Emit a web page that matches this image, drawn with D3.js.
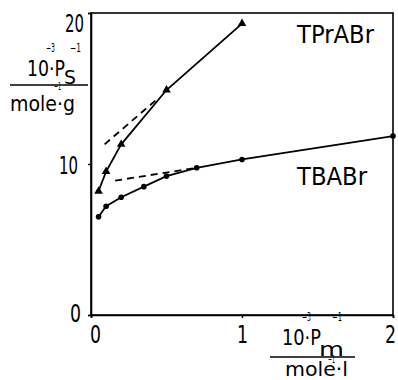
<!DOCTYPE html>
<html><head><meta charset="utf-8">
<script src="https://cdn.jsdelivr.net/npm/d3@7/dist/d3.min.js"></script>
<style>
body{margin:0;background:#fff;}
svg text{font-family:"DejaVu Sans Condensed","Liberation Sans Narrow",sans-serif;fill:#000;}
</style></head>
<body><svg id="c" width="398" height="380"></svg>
<script>
const tprX = [0.05, 0.1, 0.2, 0.5, 1.0];
const tprY = [8.2, 9.5, 11.3, 14.9, 19.3];
const tbaX = [0.05, 0.1, 0.2, 0.35, 0.5, 0.7, 1.0, 2.0];
const tbaY = [6.5, 7.2, 7.8, 8.5, 9.2, 9.75, 10.3, 11.85];
const tprDashX = [0.09, 0.45];
const tprDashY = [11.3, 14.4];
const tbaDashX = [0.16, 0.7];
const tbaDashY = [8.9, 9.75];
const xTicks = [0, 1, 2];
const yTicks = [0, 10, 20];
const seriesNames = ["TPrABr", "TBABr"];

const svg = d3.select("#c");
const x = d3.scaleLinear().domain([0, 2]).range([91, 393]);
const y = d3.scaleLinear().domain([0, 20]).range([315, 13]);

// frame
svg.append("rect").attr("x", x(0)).attr("y", y(20)).attr("width", x(2) - x(0)).attr("height", y(0) - y(20))
  .attr("fill", "none").attr("stroke", "#000").attr("stroke-width", 1.6);

// y axis
const ya = svg.append("g").attr("transform", `translate(${x(0)},0)`)
  .call(d3.axisLeft(y).tickValues(yTicks).tickSize(3).tickPadding(4).tickFormat(d3.format("d")));
ya.select(".domain").attr("stroke-width", 1.6);
ya.selectAll(".tick line").attr("stroke-width", 1.4);
const yOff = {0: -3, 10: 0, 20: 9};
const yDx = {0: -3, 10: -6, 20: 0};
ya.selectAll(".tick text").attr("font-size", 25).attr("dy", "0.36em")
  .attr("font-family", '"DejaVu Sans Condensed",sans-serif')
  .attr("y", d => yOff[d]).attr("dx", d => yDx[d])
  .attr("textLength", d => String(d).length > 1 ? 19 : 11).attr("lengthAdjust", "spacingAndGlyphs");

// x axis
const xa = svg.append("g").attr("transform", `translate(0,${y(0)})`)
  .call(d3.axisBottom(x).tickValues(xTicks).tickSize(3).tickPadding(7).tickFormat(d3.format("d")));
xa.select(".domain").attr("stroke-width", 1.6);
xa.selectAll(".tick line").attr("stroke-width", 1.4);
const xDx = {0: 4, 1: 0, 2: -3};
xa.selectAll(".tick text").attr("font-size", 25)
  .attr("font-family", '"DejaVu Sans Condensed",sans-serif')
  .attr("dx", d => xDx[d]).attr("textLength", 11).attr("lengthAdjust", "spacingAndGlyphs");

const line = d3.line().x(d => x(d[0])).y(d => y(d[1]));
const tpr = tprX.map((v, i) => [v, tprY[i]]);
const tba = tbaX.map((v, i) => [v, tbaY[i]]);

svg.append("path").attr("d", line(tpr)).attr("fill", "none").attr("stroke", "#000").attr("stroke-width", 1.8);
svg.append("path").attr("d", line(tba)).attr("fill", "none").attr("stroke", "#000").attr("stroke-width", 1.8);

svg.append("path").attr("d", line(tprDashX.map((v, i) => [v, tprDashY[i]])))
  .attr("fill", "none").attr("stroke", "#000").attr("stroke-width", 1.8).attr("stroke-dasharray", "7,5");
svg.append("path").attr("d", line(tbaDashX.map((v, i) => [v, tbaDashY[i]])))
  .attr("fill", "none").attr("stroke", "#000").attr("stroke-width", 1.8).attr("stroke-dasharray", "7,5");

const tri = d3.symbol().type(d3.symbolTriangle).size(32);
svg.selectAll(".tri").data(tpr).enter().append("path")
  .attr("transform", d => `translate(${x(d[0])},${y(d[1])})`).attr("d", tri).attr("fill", "#000");
svg.selectAll(".dot").data(tba).enter().append("circle")
  .attr("cx", d => x(d[0])).attr("cy", d => y(d[1])).attr("r", 2.8).attr("fill", "#000");

// series labels
svg.append("text").attr("x", 297).attr("y", 43).attr("font-size", 24)
  .attr("textLength", 77).attr("lengthAdjust", "spacingAndGlyphs").text(seriesNames[0]);
svg.append("text").attr("x", 297).attr("y", 185).attr("font-size", 24)
  .attr("textLength", 70).attr("lengthAdjust", "spacingAndGlyphs").text(seriesNames[1]);

function t(g, xx, yy, fs, txt, len) {
  const e = g.append("text").attr("x", xx).attr("y", yy).attr("font-size", fs).text(txt);
  if (len) e.attr("textLength", len).attr("lengthAdjust", "spacingAndGlyphs");
  return e;
}

// y-axis title (fraction)
const yt = svg.append("g");
t(yt, 27, 76, 21, "10·P", 38);
t(yt, 46, 52, 12, "−3", 9);
t(yt, 70, 52, 12, "−1", 11);
t(yt, 64, 84, 20, "S", 12);
yt.append("line").attr("x1", 10).attr("x2", 88).attr("y1", 85).attr("y2", 85).attr("stroke", "#000").attr("stroke-width", 1.4);
t(yt, 10, 111, 21, "mole·g", 65);
t(yt, 54, 90, 11, "−1", 7);

// x-axis title (fraction)
const xt = svg.append("g");
t(xt, 282, 345, 21, "10·P", 39);
t(xt, 302, 321, 12, "−3", 9);
t(xt, 332, 321, 12, "−1", 10);
t(xt, 319, 356, 20, "m", 25);
xt.append("line").attr("x1", 270).attr("x2", 355).attr("y1", 357).attr("y2", 357).attr("stroke", "#000").attr("stroke-width", 1.4);
t(xt, 285, 376, 20, "mole·l", 63);
t(xt, 328, 363, 11, "−1", 7);
</script></body></html>
